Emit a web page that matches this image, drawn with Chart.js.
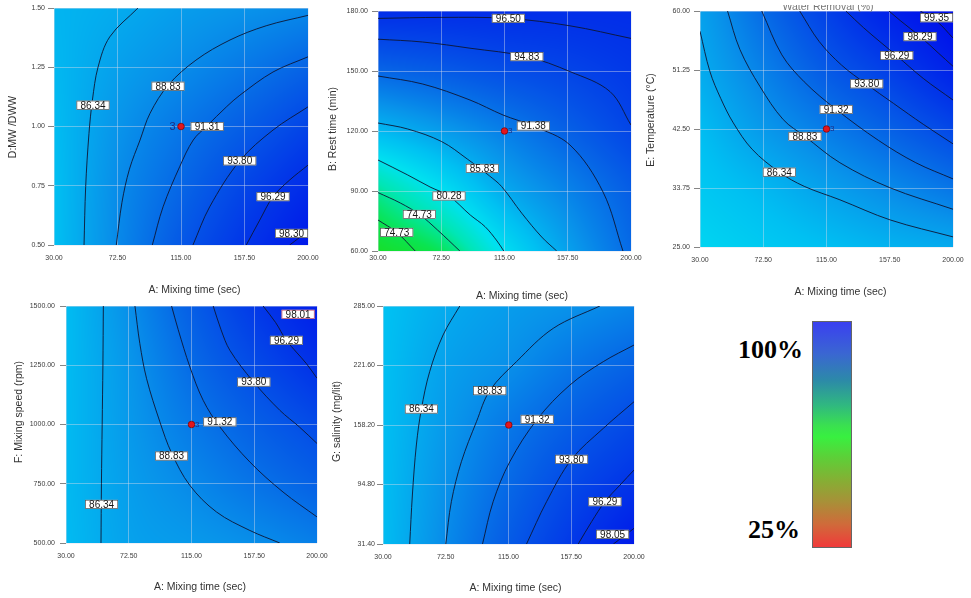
<!DOCTYPE html>
<html><head><meta charset="utf-8">
<script src="https://cdn.jsdelivr.net/npm/chart.js@4.4.1/dist/chart.umd.min.js"></script>
<style>
html,body{margin:0;padding:0;background:#fff;}
body{width:971px;height:598px;overflow:hidden;position:relative;font-family:"Liberation Sans",Arial,sans-serif;}
canvas{position:absolute;}
#cbar{position:absolute;left:812px;top:321px;width:38px;height:225px;border:1px solid #666;
background:linear-gradient(to bottom,#3a40f0 0%,#3a66d2 14%,#2c8aa8 26%,#30b880 37%,#3ae050 46%,#38f040 51%,#5cd038 60%,#84b034 70%,#a89038 80%,#d06a3a 90%,#f03a3a 100%);}
.pct{position:absolute;font-family:"Liberation Serif","Times New Roman",serif;font-weight:bold;font-size:26px;line-height:26px;color:#000;white-space:nowrap;}
</style></head><body>
<canvas id="c1"></canvas>
<canvas id="c2"></canvas>
<canvas id="c3"></canvas>
<canvas id="c4"></canvas>
<canvas id="c5"></canvas>
<div id="cbar"></div>
<div class="pct" style="left:738px;top:337px">100%</div>
<div class="pct" style="left:748px;top:517px">25%</div>
<script>
// ---------------- DATA ----------------
const xTicks = [30, 72.5, 115, 157.5, 200];
const xTitle = 'A: Mixing time (sec)';

// Panel 1 : D:MW/DWW vs A
const p1YTicks = [0.5, 0.75, 1.0, 1.25, 1.5];
const p1YTitle = 'D:MW /DWW';
const p1Lines = [
  [[50.1,0.5],[51.2,0.746],[53.4,0.97],[55.7,1.111],[59.5,1.251],[67.3,1.378],[86.2,1.5]],
  [[71.7,0.5],[75.5,0.68],[80.5,0.82],[87.6,0.943],[94.3,1.056],[106.5,1.175],[125,1.28],[147.8,1.365],[172,1.425],[200,1.469]],
  [[95.8,0.5],[103,0.661],[114.1,0.83],[123.2,0.943],[132,1.0],[145.6,1.084],[154.4,1.132],[176.6,1.23],[200,1.294]],
  [[123,0.5],[134.2,0.661],[154.3,0.855],[176.6,0.985],[200,1.083]],
  [[158.7,0.5],[167.7,0.605],[176.6,0.704],[187.7,0.774],[200,0.837]],
  [[187.7,0.5],[194.4,0.532],[200,0.563]]
];
const p1Labels = ['86.34','88.83','91.31','93.80','96.29','98.30'];
const p1LabelPos = [[56.1,1.09],[106.3,1.17],[132.5,1.0],[154.3,0.855],[176.6,0.704],[190,0.549]];
const p1Point = [115, 1.0];
const p1Grid = [
  [84.0, 88.9, 93.1, 96.2, 99.1],
  [84.0, 88.6, 91.8, 94.7, 97.2],
  [84.3, 87.9, 90.4, 92.6, 94.9],
  [84.7, 86.9, 88.6, 90.3, 92.1],
  [85.0, 85.9, 87.1, 88.0, 88.9]
];

// Panel 2 : B: Rest time vs A
const p2YTicks = [60, 90, 120, 150, 180];
const p2YTitle = 'B: Rest time (min)';
const p2Lines = [
  [[30,176.3],[72.5,176.8],[117.6,176.3],[159,172.6],[200,166.3]],
  [[30,165.9],[60,164.5],[91.8,161.4],[130,157.2],[159,149.7],[185.9,139.7],[200,123]],
  [[30,147.5],[60,143.5],[91.8,135.5],[114,128],[134.2,122.5],[159,113],[181.2,89.5],[194.6,60]],
  [[30,124],[50,121],[72.8,114.7],[90,106],[105,97.5],[113.1,92.2],[126.6,78.9],[140,67],[150.1,60]],
  [[30,105.5],[50,98],[65,92],[77.7,87.5],[92,78],[101.9,72.2],[110,65],[114.5,60]],
  [[30,89.2],[45,84],[57.8,78.3],[70,70.5],[85,60]],
  [[30,75.5],[42.6,69.3],[55,60]]
];
const p2Labels = ['96.50','94.83','91.38','85.83','80.28','74.73','74.73'];
const p2LabelPos = [[117.6,176.3],[130,157.2],[134.4,122.5],[100.1,101.3],[77.7,87.5],[57.8,78.3],[42.6,69.3]];
const p2Point = [115, 120];
const p2Grid = [
  [69.5, 72.4, 80.4, 86.8, 91.5],
  [74.9, 80.1, 85.9, 89.4, 92.6],
  [84.6, 87.2, 89.8, 92.3, 94.7],
  [91.85, 92.8, 93.9, 94.8, 95.9],
  [97.0, 97.0, 97.0, 96.9, 97.0]
];

// Panel 3 : E: Temperature vs A
const p3YTicks = [25, 33.75, 42.5, 51.25, 60];
const p3YTitle = 'E: Temperature (\u00B0C)';
const p3Lines = [
  [[30,57],[36.7,51],[44,47],[52.4,43.4],[65,39.5],[83.3,36.1],[100,34],[124,32],[158,29],[200,26.5]],
  [[48.5,60],[56.8,54.3],[70.3,48.8],[85.9,43.9],[100.5,41.4],[124,37.5],[157.5,33.8],[200,30.6]],
  [[71.5,60],[85,53.5],[100,49.5],[121.5,45.4],[150,40.8],[175,37.5],[200,35.1]],
  [[97,60],[110,55.5],[125,52],[141.5,49.2],[160,46.3],[180,43.2],[200,40.3]],
  [[128,60],[140,57.5],[162,53.4],[180,50],[200,46.8]],
  [[157,60],[165,58.5],[178,56.2],[190,53.8],[200,51.8]],
  [[178,60],[189,58.5],[200,56]]
];
const p3Labels = ['86.34','88.83','91.32','93.80','96.29','98.29','99.35'];
const p3LabelPos = [[83.3,36.1],[100.5,41.4],[121.5,45.4],[142,49.2],[162.2,53.4],[177.8,56.2],[190,59]];
const p3Point = [115, 42.5];
const p3Grid = [
  [81.5, 82.8, 84.0, 85.2, 86.0],
  [83.0, 84.8, 86.9, 88.8, 90.6],
  [84.3, 87.5, 90.0, 92.3, 94.6],
  [85.9, 89.6, 92.9, 95.4, 98.1],
  [86.8, 91.4, 95.2, 98.3, 100.3]
];

// Panel 4 : F: Mixing speed vs A
const p4YTicks = [500, 750, 1000, 1250, 1500];
const p4YTitle = 'F: Mixing speed (rpm)';
const p4Lines = [
  [[55.3,1500],[55,1250],[54.5,1000],[54,750],[53.7,500]],
  [[76.7,1500],[80,1342],[84.6,1193],[93.6,1011],[101.5,880],[113.9,743],[131.9,631],[154.5,553],[174.8,500]],
  [[101.5,1500],[106,1400],[113.9,1243],[122.9,1102],[134.2,990],[154.5,842],[177,715],[200,610]],
  [[129.7,1500],[135,1400],[141,1313],[156.7,1182],[174.8,1060],[188,990],[200,920]],
  [[163.5,1500],[172,1430],[179.3,1355],[192.8,1257],[200,1195]]
];
const p4Labels = ['86.34','88.83','91.32','93.80','96.29','98.01'];
const p4LabelPos = [[54.1,663],[101.5,867],[134.2,1011],[157.2,1179],[179.3,1355],[187.2,1465]];
const p4Point = [115, 1000];
const p4Grid = [
  [84.5, 86.7, 87.5, 88.5, 89.8],
  [84.6, 87.1, 88.9, 90.7, 92.3],
  [84.5, 87.5, 90.2, 92.4, 94.3],
  [84.4, 87.8, 91.4, 94.2, 96.6],
  [84.3, 88.4, 92.5, 95.8, 98.5]
];

// Panel 5 : G: salinity vs A
const p5YTicks = [31.4, 94.8, 158.2, 221.6, 285];
const p5YTitle = 'G: salinity (mg/lit)';
const p5Lines = [
  [[48.1,31.4],[49.9,83.6],[52.6,136.9],[56,175.2],[61.6,215],[70.7,254.1],[82,285]],
  [[72.5,31.4],[76.3,76.5],[83.1,119.1],[93.3,161.7],[102.3,194.8],[120.4,225.7],[145.3,261.2],[176.9,285]],
  [[97.4,31.4],[104.6,76.5],[115.9,119.1],[134.4,164.2],[156.6,200.8],[179.2,225.7],[200,243.4]],
  [[127.2,31.4],[140.8,76.5],[157.7,121.6],[179.2,154.6],[200,183]],
  [[162.2,31.4],[171.3,55.2],[180.3,76.5],[190.5,94.2],[200,110.2]],
  [[186,31.4],[192.7,39.2],[200,48.1]]
];
const p5Labels = ['86.34','88.83','91.32','93.80','96.29','98.05'];
const p5LabelPos = [[56,175.2],[102.3,194.8],[134.4,164.2],[157.7,121.6],[180.3,76.5],[185.5,41.7]];
const p5Point = [115.2, 158.2];
const p5Grid = [
  [84.3, 88.8, 92.8, 95.9, 98.9],
  [84.2, 88.2, 91.6, 94.4, 96.5],
  [84.1, 87.5, 90.3, 92.6, 94.5],
  [84.0, 86.8, 88.4, 90.5, 92.2],
  [83.8, 85.9, 87.2, 88.2, 89.4]
];

// ---------------- STYLE ----------------
const cmapStops = [
  [68,[30,220,20]],[72,[10,228,80]],[76,[0,230,180]],[80,[0,225,240]],
  [84,[0,192,242]],[88,[8,148,234]],[92,[6,100,230]],[96,[2,55,232]],[100,[0,15,235]]
];
const FONT = '"Liberation Sans", Arial, sans-serif';

function cmap(v){
  if (v <= cmapStops[0][0]) return cmapStops[0][1];
  for (let i=1;i<cmapStops.length;i++){
    if (v <= cmapStops[i][0]){
      const [a,ca]=cmapStops[i-1],[b,cb]=cmapStops[i];
      const t=(v-a)/(b-a);
      return [ca[0]+(cb[0]-ca[0])*t, ca[1]+(cb[1]-ca[1])*t, ca[2]+(cb[2]-ca[2])*t];
    }
  }
  return cmapStops[cmapStops.length-1][1];
}
function cr(p0,p1,p2,p3,t){
  return 0.5*((2*p1)+(-p0+p2)*t+(2*p0-5*p1+4*p2-p3)*t*t+(-p0+3*p1-3*p2+p3)*t*t*t);
}
function interp(g,gx,gy){
  const ny=g.length,nx=g[0].length;
  const ix=Math.min(Math.floor(gx),nx-2), iy=Math.min(Math.floor(gy),ny-2);
  const tx=gx-ix, ty=gy-iy;
  const G=(r,c)=>{
    if (c<0) return 2*G(r,0)-G(r,1);
    if (c>nx-1) return 2*G(r,nx-1)-G(r,nx-2);
    if (r<0) return 2*G(0,c)-G(1,c);
    if (r>ny-1) return 2*G(ny-1,c)-G(ny-2,c);
    return g[r][c];
  };
  const col=[];
  for (let k=-1;k<3;k++){const r=iy+k; col.push(cr(G(r,ix-1),G(r,ix),G(r,ix+1),G(r,ix+2),tx));}
  return cr(col[0],col[1],col[2],col[3],ty);
}
function drawHeat(chart, grid, cache){
  const a=chart.chartArea;
  const w=Math.round(a.right-a.left), h=Math.round(a.bottom-a.top);
  if (!cache.off || cache.w!==w || cache.h!==h){
    const off=document.createElement('canvas'); off.width=w; off.height=h;
    const octx=off.getContext('2d'); const img=octx.createImageData(w,h);
    const nx=grid[0].length-1, ny=grid.length-1;
    for (let j=0;j<h;j++){
      const gy=(1-(j+0.5)/h)*ny;
      for (let i=0;i<w;i++){
        const gx=(i+0.5)/w*nx;
        const c=cmap(interp(grid,gx,gy));
        const k=(j*w+i)*4;
        img.data[k]=c[0]; img.data[k+1]=c[1]; img.data[k+2]=c[2]; img.data[k+3]=255;
      }
    }
    octx.putImageData(img,0,0);
    cache.off=off; cache.w=w; cache.h=h;
  }
  chart.ctx.drawImage(cache.off, a.left, a.top);
}

function makeChart(cfg){
  const L=cfg.lay;
  const cv=document.getElementById(cfg.id);
  cv.width=L.w; cv.height=L.h;
  cv.style.left=L.left+'px'; cv.style.top=L.top+'px';
  cv.style.width=L.w+'px'; cv.style.height=L.h+'px';
  const datasets=cfg.lines.map(pts=>({
    data:pts.map(p=>({x:p[0],y:p[1]})), showLine:true, borderColor:'#0d1533',
    borderWidth:0.9, pointRadius:0, pointHoverRadius:0, tension:0.35, fill:false, order:2
  }));
  datasets.push({data:[{x:cfg.point[0],y:cfg.point[1]}], showLine:false, pointRadius:3.3,
    pointBackgroundColor:'#e3151c', pointBorderColor:'#7a0000', pointBorderWidth:0.7, order:1});
  const cache={};
  const plugin={
    id:'deco_'+cfg.id,
    beforeDraw(chart){ drawHeat(chart,cfg.grid,cache); },
    afterDraw(chart){
      const ctx=chart.ctx, xs=chart.scales.x, ys=chart.scales.y, area=chart.chartArea;
      ctx.save();
      ctx.font='10px '+FONT;
      cfg.labels.forEach((t,i)=>{
        const px=xs.getPixelForValue(cfg.labelPos[i][0]), py=ys.getPixelForValue(cfg.labelPos[i][1]);
        const bw=33, bh=9;
        let bx=px-bw/2; bx=Math.max(area.left, Math.min(bx, area.right-bw));
        let by=py-bh/2; by=Math.max(area.top, Math.min(by, area.bottom-bh));
        ctx.fillStyle='#ffffff'; ctx.fillRect(bx,by,bw,bh);
        ctx.strokeStyle=(cfg.labelBorder && cfg.labelBorder[i]) || '#4a4a4a';
        ctx.lineWidth=0.7; ctx.strokeRect(bx+0.35,by+0.35,bw-0.7,bh-0.7);
        ctx.fillStyle='#161616'; ctx.textAlign='center'; ctx.textBaseline='middle';
        ctx.fillText(t,bx+bw/2,by+bh/2+0.6);
      });
      if (cfg.runLabel){
        const px=xs.getPixelForValue(cfg.point[0]), py=ys.getPixelForValue(cfg.point[1]);
        if (cfg.runLabel==='left'){
          ctx.font='11px '+FONT; ctx.fillStyle='#1d2e86'; ctx.textAlign='right'; ctx.textBaseline='middle';
          ctx.fillText('3',px-5.5,py+0.5);
        } else {
          ctx.font='8px '+FONT; ctx.fillStyle='#1d2e86'; ctx.textAlign='left'; ctx.textBaseline='middle';
          ctx.fillText('3',px+3.5,py);
        }
      }
      ctx.font='10.5px '+FONT; ctx.fillStyle='#333'; ctx.textAlign='center'; ctx.textBaseline='middle';
      ctx.fillText(xTitle, L.xTitle[0]-L.left, L.xTitle[1]-L.top);
      ctx.save();
      ctx.translate(L.yTitle[0]-L.left, L.yTitle[1]-L.top); ctx.rotate(-Math.PI/2);
      ctx.fillText(cfg.yTitle,0,0);
      ctx.restore();
      if (cfg.topTitle){
        ctx.save(); ctx.beginPath(); ctx.rect(0,5,L.w,10); ctx.clip();
        ctx.font='10.5px '+FONT; ctx.fillStyle='#777'; ctx.textAlign='center'; ctx.textBaseline='alphabetic';
        ctx.fillText(cfg.topTitle[0], cfg.topTitle[1]-L.left, cfg.topTitle[2]-L.top);
        ctx.restore();
      }
      ctx.restore();
    }
  };
  const tickFont={size:7,family:FONT};
  new Chart(cv,{
    type:'scatter',
    data:{datasets},
    options:{
      responsive:false, animation:false, devicePixelRatio:1, events:[],
      layout:{padding:{top:L.padT,right:L.padR,left:0,bottom:0}},
      plugins:{legend:{display:false},tooltip:{enabled:false}},
      scales:{
        x:{type:'linear', min:xTicks[0], max:xTicks[xTicks.length-1],
          afterBuildTicks:s=>{s.ticks=xTicks.map(v=>({value:v}));},
          afterFit:s=>{s.height=L.xH; s.paddingLeft=0; s.paddingRight=0;},
          ticks:{font:tickFont,color:'#3c3c3c',padding:L.xTickPad,maxRotation:0,autoSkip:false,
            callback:v=>Number(v).toFixed(2)},
          grid:{color:'rgba(215,220,235,0.55)',lineWidth:0.8,drawTicks:false},
          border:{display:false}
        },
        y:{type:'linear', min:cfg.yTicks[0], max:cfg.yTicks[cfg.yTicks.length-1],
          afterBuildTicks:s=>{s.ticks=cfg.yTicks.map(v=>({value:v}));},
          afterFit:s=>{s.width=L.yW; s.paddingTop=0; s.paddingBottom=0;},
          ticks:{font:tickFont,color:'#3c3c3c',padding:L.yTickPad,autoSkip:false,
            callback:v=>Number(v).toFixed(2)},
          grid:{color:'rgba(215,220,235,0.55)',lineWidth:0.8,drawTicks:true,tickLength:6,tickColor:'#666',tickWidth:0.8},
          border:{display:false}
        }
      }
    },
    plugins:[plugin]
  });
}

const lay = {
  p1:{left:0,top:0,w:320,h:300,yW:54,xH:55,padT:8,padR:12,yTickPad:3,xTickPad:9,yTitle:[13,127],xTitle:[194.5,290]},
  p2:{left:318,top:0,w:326,h:304,yW:60,xH:53,padT:11,padR:13,yTickPad:4,xTickPad:2.5,yTitle:[333.5,129],xTitle:[522,296]},
  p3:{left:640,top:0,w:331,h:300,yW:60,xH:53,padT:11,padR:18,yTickPad:4,xTickPad:9,yTitle:[651.5,120],xTitle:[840.5,292]},
  p4:{left:0,top:300,w:331,h:298,yW:66,xH:55,padT:6,padR:14,yTickPad:5,xTickPad:9,yTitle:[19,412],xTitle:[200,587]},
  p5:{left:325,top:300,w:320,h:298,yW:58,xH:54,padT:6,padR:11,yTickPad:2,xTickPad:9,yTitle:[337.5,421.5],xTitle:[515.5,588]}
};

makeChart({id:'c1',lay:lay.p1,yTicks:p1YTicks,yTitle:p1YTitle,lines:p1Lines,labels:p1Labels,labelPos:p1LabelPos,point:p1Point,grid:p1Grid,runLabel:'left'});
makeChart({id:'c2',lay:lay.p2,yTicks:p2YTicks,yTitle:p2YTitle,lines:p2Lines,labels:p2Labels,labelPos:p2LabelPos,point:p2Point,grid:p2Grid,runLabel:'right'});
makeChart({id:'c3',lay:lay.p3,yTicks:p3YTicks,yTitle:p3YTitle,lines:p3Lines,labels:p3Labels,labelPos:p3LabelPos,point:p3Point,grid:p3Grid,runLabel:'right',topTitle:['Water Removal (%)',828,9.5]});
makeChart({id:'c4',lay:lay.p4,yTicks:p4YTicks,yTitle:p4YTitle,lines:p4Lines,labels:p4Labels,labelPos:p4LabelPos,point:p4Point,grid:p4Grid,runLabel:'right',labelBorder:[null,null,null,null,null,'#c0405a']});
makeChart({id:'c5',lay:lay.p5,yTicks:p5YTicks,yTitle:p5YTitle,lines:p5Lines,labels:p5Labels,labelPos:p5LabelPos,point:p5Point,grid:p5Grid});
</script>
</body></html>
